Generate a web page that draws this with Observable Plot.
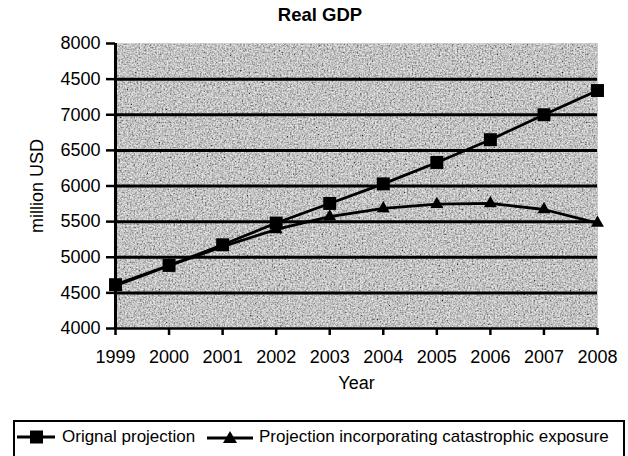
<!DOCTYPE html>
<html>
<head>
<meta charset="utf-8">
<script src="https://cdn.jsdelivr.net/npm/d3@7"></script>
<script src="https://cdn.jsdelivr.net/npm/@observablehq/plot@0.6"></script>
<style>
  html, body { margin: 0; padding: 0; background: #fff; }
  body { width: 628px; height: 456px; overflow: hidden; font-family: "Liberation Sans", Arial, sans-serif; color: #000; }
  #title { height: 30px; line-height: 30px; font-size: 18.5px; font-weight: bold; text-align: center; padding-left: 12px; width: 616px; }
  #legend { position: relative; margin-left: 13px; margin-top: 15px; width: 608px; height: 40px; border: 2px solid #000; border-bottom: none; }
  #legend .sym { position: absolute; top: 7px; }
  #legend .lab { position: absolute; top: 5px; font-size: 17px; line-height: 20px; white-space: nowrap; }
</style>
</head>
<body>
<div id="title">Real GDP</div>
<div id="chart"></div>
<div id="legend">
  <svg class="sym" style="left:2px" width="40" height="16"><line x1="0" y1="8" x2="38" y2="8" stroke="#000" stroke-width="3"/><rect x="13" y="1.5" width="13" height="13" fill="#000"/></svg>
  <span class="lab" style="left:47px">Orignal projection</span>
  <svg class="sym" style="left:192px" width="48" height="16"><line x1="0" y1="9" x2="46" y2="9" stroke="#000" stroke-width="3"/><path d="M23,2 L30,14 L16,14 Z" fill="#000"/></svg>
  <span class="lab" style="left:244px">Projection incorporating catastrophic exposure</span>
</div>
<script>
const years = [1999, 2000, 2001, 2002, 2003, 2004, 2005, 2006, 2007, 2008];
const original = [4615, 4885, 5175, 5480, 5755, 6030, 6330, 6650, 7000, 7340];
const catastrophic = [4600, 4880, 5150, 5390, 5570, 5685, 5745, 5755, 5670, 5480];
const yTicks = [4000, 4500, 5000, 5500, 6000, 6500, 7000, 7500, 8000];
const yTickLabels = ["4000", "4500", "5000", "5500", "6000", "6500", "7000", "4500", "8000"];
const gridLines = [4500, 5000, 5500, 6000, 6500, 7000, 7500];

const origData = years.map((y, i) => ({year: y, value: original[i]}));
const catData = years.map((y, i) => ({year: y, value: catastrophic[i]}));

const svg = Plot.plot({
  width: 628,
  height: 375,
  marginTop: 13,
  marginBottom: 77,
  marginLeft: 115,
  marginRight: 31,
  style: {fontFamily: "'Liberation Sans', Arial, sans-serif", fontSize: "18px", color: "#000", background: "transparent"},
  x: {domain: [1999, 2008], label: null},
  y: {domain: [4000, 8000], label: null},
  marks: [
    Plot.frame({fill: "#9c9c9c", stroke: null}),
    Plot.frame({fill: "#9c9c9c", stroke: null}),
    Plot.ruleY(gridLines, {stroke: "#000", strokeWidth: 3}),
    Plot.ruleY([4000], {stroke: "#000", strokeWidth: 2.5}),
    Plot.ruleX([1999], {stroke: "#000", strokeWidth: 3}),
    Plot.axisY(yTicks, {tickSize: 9, tickPadding: 6, strokeWidth: 2.5, fontSize: 18, tickFormat: d => yTickLabels[yTicks.indexOf(d)], label: null}),
    Plot.axisX(years, {tickSize: 7, tickPadding: 15, strokeWidth: 2.5, fontSize: 18, tickFormat: d => String(d), label: null}),
    Plot.text(["million USD"], {text: d => d, frameAnchor: "left", textAnchor: "middle", dx: -78, rotate: -90, fontSize: 18}),
    Plot.text(["Year"], {text: d => d, frameAnchor: "bottom", dy: 60, fontSize: 18}),
    Plot.line(catData, {x: "year", y: "value", stroke: "#000", strokeWidth: 2.8}),
    Plot.line(origData, {x: "year", y: "value", stroke: "#000", strokeWidth: 2.8}),
    Plot.dot(catData, {x: "year", y: "value", symbol: "triangle", r: 4.8, fill: "#000", stroke: null}),
    Plot.dot(origData, {x: "year", y: "value", symbol: "square", r: 7.3, fill: "#000", stroke: null})
  ]
});

// grain texture for the plot background
const ns = "http://www.w3.org/2000/svg";
const defs = document.createElementNS(ns, "defs");
defs.innerHTML = `
<filter id="grain" x="0" y="0" width="1" height="1">
  <feTurbulence type="fractalNoise" baseFrequency="0.6" numOctaves="3" seed="7" result="t"/>
  <feColorMatrix in="t" type="saturate" values="0" result="g"/>
  <feComponentTransfer in="g" result="c">
    <feFuncR type="linear" slope="2.2" intercept="-0.47"/>
    <feFuncG type="linear" slope="2.2" intercept="-0.47"/>
    <feFuncB type="linear" slope="2.2" intercept="-0.47"/>
    <feFuncA type="linear" slope="0" intercept="1"/>
  </feComponentTransfer>
  <feComposite in="c" in2="SourceGraphic" operator="in"/>
</filter>`;
svg.insertBefore(defs, svg.firstChild);
const frames = svg.querySelectorAll('[aria-label="frame"]');
if (frames.length > 1) {
  const r = frames[1].tagName.toLowerCase() === "rect" ? frames[1] : frames[1].querySelector("rect");
  if (r) { r.setAttribute("filter", "url(#grain)"); r.setAttribute("opacity", "0.75"); }
}
document.getElementById("chart").appendChild(svg);
</script>
</body>
</html>
